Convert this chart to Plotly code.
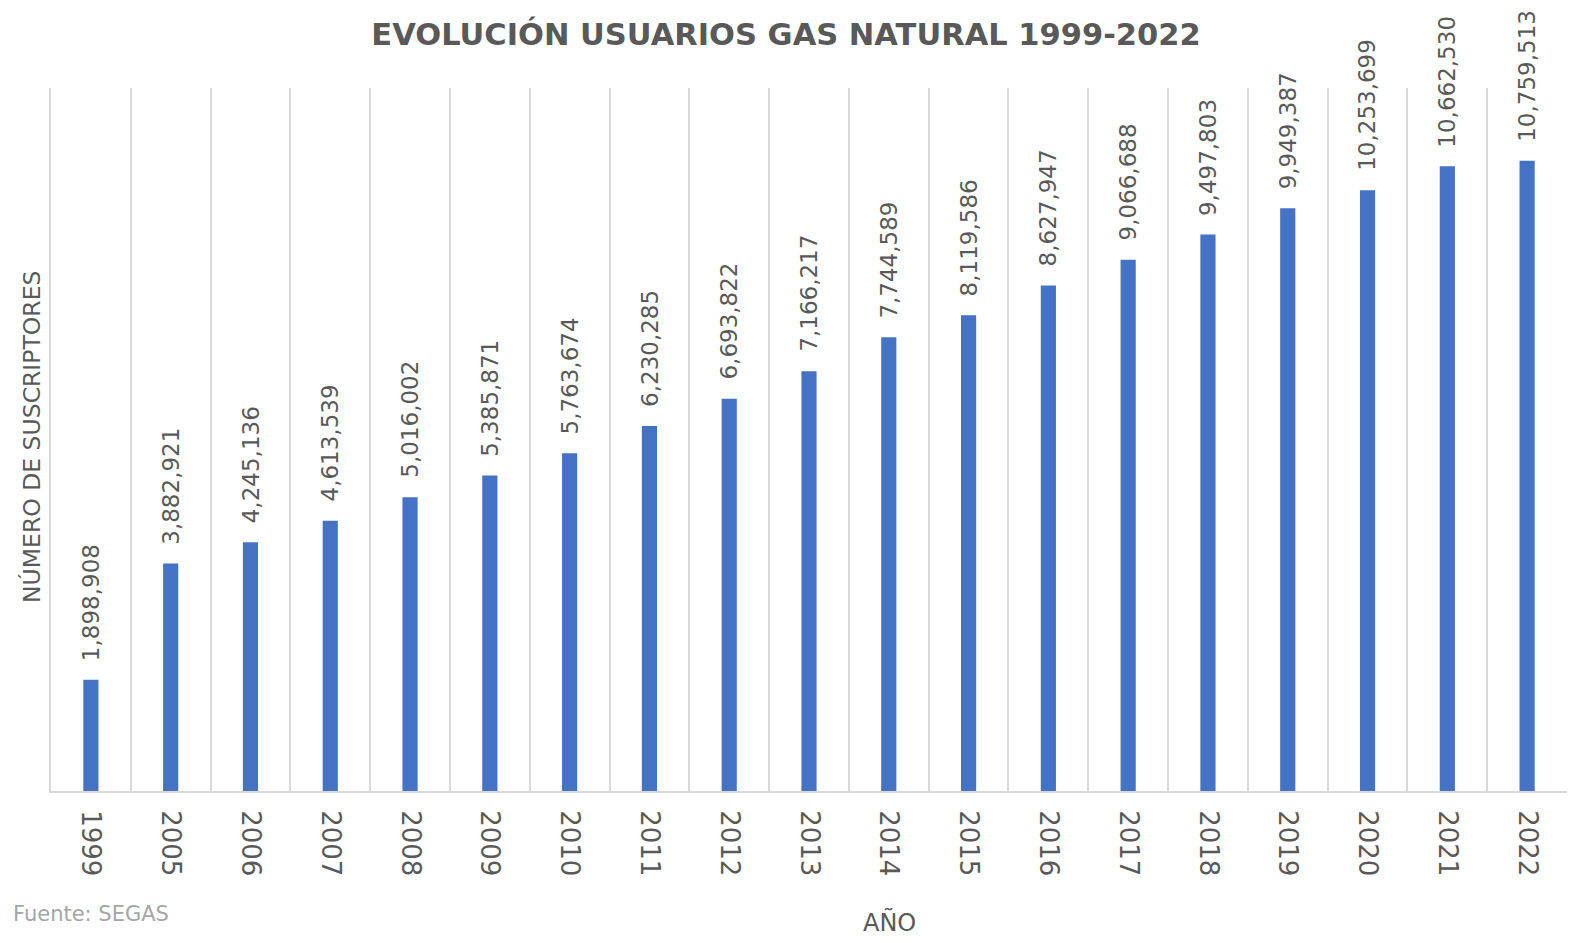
import plotly.graph_objects as go

years = ["1999", "2005", "2006", "2007", "2008", "2009", "2010", "2011", "2012", "2013",
         "2014", "2015", "2016", "2017", "2018", "2019", "2020", "2021", "2022"]
users = [1898908, 3882921, 4245136, 4613539, 5016002, 5385871, 5763674, 6230285, 6693822,
         7166217, 7744589, 8119586, 8627947, 9066688, 9497803, 9949387, 10253699, 10662530,
         10759513]

title_text = "EVOLUCIÓN USUARIOS GAS NATURAL 1999-2022"
y_title = "NÚMERO DE SUSCRIPTORES"
x_title = "AÑO"
source_text = "Fuente: SEGAS"

TXT = "#595959"
GRID = "#d9d9d9"
FONT = "DejaVu Sans"

fig = go.Figure()
fig.add_trace(go.Bar(
    x=years, y=users, width=0.19,
    marker=dict(color="#4472C4", line=dict(width=0)),
    hoverinfo="x+y",
))

for i, v in enumerate(users):
    fig.add_annotation(
        x=i, y=v, xref="x", yref="y", text=f"{v:,}", textangle=-90, showarrow=False,
        xanchor="center", yanchor="bottom", yshift=17,
        font=dict(family=FONT, size=23, color=TXT),
    )

fig.add_annotation(
    text=source_text, xref="paper", yref="paper", x=-0.0264, y=-0.175,
    xanchor="left", yanchor="middle", showarrow=False,
    font=dict(family=FONT, size=21, color="#a6a6a6"),
)
fig.add_annotation(
    text=x_title, xref="paper", yref="paper", x=0.5528, y=-0.1863,
    xanchor="center", yanchor="middle", showarrow=False,
    font=dict(family=FONT, size=24, color=TXT),
)
fig.add_annotation(
    text=y_title, xref="paper", yref="paper", x=-0.0125, y=0.5036, textangle=-90,
    xanchor="center", yanchor="middle", showarrow=False,
    font=dict(family=FONT, size=23.5, color=TXT),
)

fig.update_layout(
    width=1575, height=943,
    margin=dict(l=43, r=16, t=80, b=160),
    paper_bgcolor="white", plot_bgcolor="white",
    showlegend=False,
    title=dict(text=f"<b>{title_text}</b>", x=0.494, xanchor="center", y=0.9724, yanchor="middle",
               font=dict(family=FONT, size=30.5, color=TXT)),
    xaxis=dict(
        type="category", range=[-0.5, 18.5], tickson="boundaries", showgrid=True,
        gridcolor=GRID, gridwidth=2,
        showline=True, linecolor=GRID, linewidth=2, ticks="", tickangle=90,
        ticklabelstandoff=12,
        tickfont=dict(family=FONT, size=26, color=TXT),
    ),
    yaxis=dict(
        range=[0, 12000000], showgrid=False, zeroline=False, showticklabels=False,
        showline=True, linecolor=GRID, linewidth=2, mirror=True,
    ),
)

fig.write_html("out.html")
